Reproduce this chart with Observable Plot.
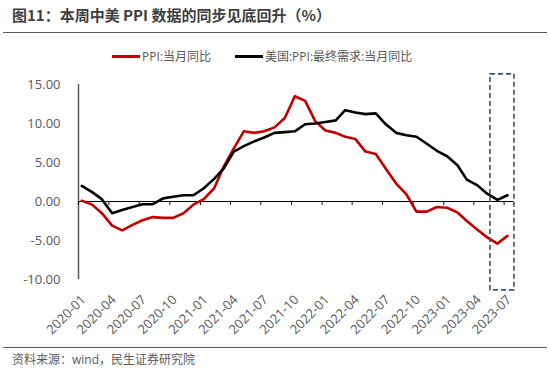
<!DOCTYPE html>
<html>
<head>
<meta charset="utf-8">
<script src="https://cdn.jsdelivr.net/npm/d3@7"></script>
<script src="https://cdn.jsdelivr.net/npm/@observablehq/plot@0.6"></script>
<style>
  html, body { margin: 0; padding: 0; background: #fff; }
  #wrap { position: relative; width: 550px; height: 369px; overflow: hidden; background: #fff;
          font-family: "Open Sans", "Noto Sans CJK SC", sans-serif; color: #595959; }
  #title { position: absolute; left: 12px; top: 4px; font-size: 15px; font-weight: bold; color: #3f3f3f;
           font-family: "Noto Sans CJK SC", sans-serif; line-height: 22px; white-space: nowrap; }
  .hr { position: absolute; left: 3px; width: 544px; height: 0; border-top: 1.5px solid #595959; }
  #legend { position: absolute; left: 112px; top: 47px; height: 18px; display: flex; align-items: center;
            font-size: 12px; white-space: nowrap; z-index: 2; }
  #legend .sw { display: inline-block; width: 28px; height: 0; border-top: 3px solid; margin-right: 2px; }
  #chart { position: absolute; left: 0; top: 62px; }
  #caption { position: absolute; left: 12px; top: 351px; font-size: 12px; line-height: 18px; white-space: nowrap;
             font-family: "Open Sans", "Noto Sans CJK SC", sans-serif; }
</style>
</head>
<body>
<div id="wrap">
  <div id="title">图11：本周中美 PPI 数据的同步见底回升（%）</div>
  <div class="hr" style="top:32px"></div>
  <div id="legend"></div>
  <div id="chart"></div>
  <div class="hr" style="top:347px"></div>
  <div id="caption">资料来源：wind，民生证券研究院</div>
</div>
<script>
// ---- data ----
const months = [
  "2020-01","2020-02","2020-03","2020-04","2020-05","2020-06","2020-07","2020-08","2020-09","2020-10","2020-11","2020-12",
  "2021-01","2021-02","2021-03","2021-04","2021-05","2021-06","2021-07","2021-08","2021-09","2021-10","2021-11","2021-12",
  "2022-01","2022-02","2022-03","2022-04","2022-05","2022-06","2022-07","2022-08","2022-09","2022-10","2022-11","2022-12",
  "2023-01","2023-02","2023-03","2023-04","2023-05","2023-06","2023-07"
];
const chinaPPI = [
  0.1, -0.4, -1.5, -3.1, -3.7, -3.0, -2.4, -2.0, -2.1, -2.1, -1.5, -0.4,
  0.3, 1.7, 4.4, 6.8, 9.0, 8.8, 9.0, 9.5, 10.7, 13.5, 12.9, 10.3,
  9.1, 8.8, 8.3, 8.0, 6.4, 6.1, 4.2, 2.3, 0.9, -1.3, -1.3, -0.7,
  -0.8, -1.4, -2.5, -3.6, -4.6, -5.4, -4.4
];
const usPPI = [
  2.0, 1.2, 0.3, -1.5, -1.1, -0.7, -0.35, -0.35, 0.4, 0.6, 0.8, 0.8,
  1.7, 2.9, 4.2, 6.4, 7.1, 7.7, 8.2, 8.8, 8.9, 9.0, 9.9, 10.0,
  10.2, 10.4, 11.7, 11.4, 11.2, 11.3, 9.9, 8.8, 8.5, 8.3, 7.4, 6.5,
  5.8, 4.65, 2.8, 2.1, 1.0, 0.2, 0.8
];
const seriesNames = ["PPI:当月同比", "美国:PPI:最终需求:当月同比"];
const seriesColors = ["#C00000", "#000000"];
const yTicks = [-10, -5, 0, 5, 10, 15];
const tickMonths = ["2020-01","2020-04","2020-07","2020-10","2021-01","2021-04","2021-07","2021-10",
                    "2022-01","2022-04","2022-07","2022-10","2023-01","2023-04","2023-07"];
const highlightMonths = ["2023-06", "2023-07"];

// ---- build ----
const parse = d3.utcParse("%Y-%m");
const fmt = d3.utcFormat("%Y-%m");
const pointDate = m => d3.utcDay.offset(parse(m), 10);
const rows = months.map((m, i) => ({date: pointDate(m), cn: chinaPPI[i], us: usPPI[i]}));
const tickDates = tickMonths.map(parse);
const xStart = parse(months[0]);
const xEnd = d3.utcDay.offset(parse(months[months.length - 1]), 29);
const yMin = yTicks[0], yMax = yTicks[yTicks.length - 1];
const hl = [{
  x1: d3.utcDay.offset(pointDate(highlightMonths[0]), -21),
  x2: d3.utcDay.offset(pointDate(highlightMonths[highlightMonths.length - 1]), 21),
  y1: yMin - 1.4,
  y2: yMax + 1.3
}];

// legend
const legend = document.getElementById("legend");
seriesNames.forEach((name, i) => {
  const sw = document.createElement("span");
  sw.className = "sw";
  sw.style.borderTopColor = seriesColors[i];
  const t = document.createElement("span");
  t.textContent = name;
  if (i > 0) sw.style.marginLeft = "24px";
  legend.appendChild(sw);
  legend.appendChild(t);
});

const chart = Plot.plot({
  width: 550,
  height: 285,
  marginLeft: 78,
  marginRight: 36.7,
  marginTop: 22,
  marginBottom: 68,
  style: {fontSize: "13px", fontFamily: "'Open Sans','Noto Sans CJK SC',sans-serif", color: "#595959", background: "transparent", overflow: "visible"},
  x: {type: "utc", domain: [xStart, xEnd], axis: null},
  y: {domain: [yMin, yMax], ticks: yTicks, tickFormat: d => d.toFixed(2), tickSize: 0, tickPadding: 18, label: null},
  marks: [
    Plot.ruleX([xStart], {y1: yMin, y2: yMax, stroke: "#595959", strokeWidth: 1.5}),
    Plot.ruleY([0], {stroke: "#000", strokeWidth: 1}),
    Plot.ruleX(tickDates, {y1: 0, y2: -0.5, stroke: "#000", strokeWidth: 1}),
    Plot.text(tickDates, {x: d => d, y: yMin, text: d => fmt(d), rotate: -45, textAnchor: "end",
                          lineAnchor: "middle", dx: 5, dy: 18, fill: "#595959", fontSize: 13}),
    Plot.line(rows, {x: "date", y: "cn", stroke: seriesColors[0], strokeWidth: 2.6, strokeLinejoin: "round"}),
    Plot.line(rows, {x: "date", y: "us", stroke: seriesColors[1], strokeWidth: 2.6, strokeLinejoin: "round"}),
    Plot.rect(hl, {x1: "x1", x2: "x2", y1: "y1", y2: "y2", fill: "none", stroke: "#3B5470",
                   strokeWidth: 1.6, strokeDasharray: "5,3"})
  ]
});
document.getElementById("chart").appendChild(chart);
</script>
</body>
</html>
